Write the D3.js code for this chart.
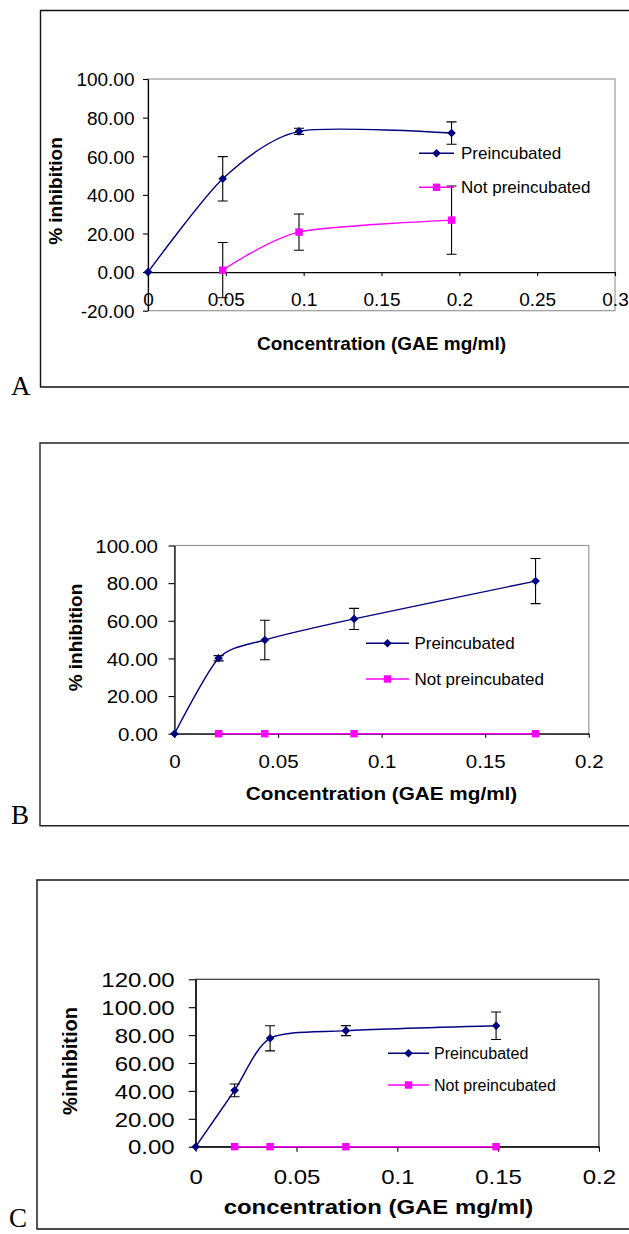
<!DOCTYPE html>
<html>
<head>
<meta charset="utf-8">
<script src="https://cdn.jsdelivr.net/npm/d3@7"></script>
<style>
  html, body { margin: 0; padding: 0; background: #fff; }
  svg { display: block; }
</style>
</head>
<body>
<script>
// ---------------- DATA ----------------
// Panel A
const xA_pre = [0, 0.048, 0.097, 0.195];
const yA_pre = [0, 48.3, 72.9, 72.0];
const eA_pre = [0, 11.5, 1.6, 5.8];
const xA_not = [0.048, 0.097, 0.195];
const yA_not = [1.0, 20.7, 26.9];
const eA_not = [14.3, 9.4, 17.7];
const xTicksA = [0, 0.05, 0.1, 0.15, 0.2, 0.25, 0.3];
const yTicksA = [-20, 0, 20, 40, 60, 80, 100];

// Panel B
const xB_pre = [0, 0.0213, 0.0436, 0.0867, 0.1743];
const yB_pre = [0, 40.1, 49.8, 61.0, 81.1];
const eB_pre = [0, 1.4, 10.5, 5.6, 12.0];
const xB_not = [0.0213, 0.0436, 0.0867, 0.1743];
const yB_not = [0, 0, 0, 0];
const xTicksB = [0, 0.05, 0.1, 0.15, 0.2];
const yTicksB = [0, 20, 40, 60, 80, 100];

// Panel C
const xC_pre = [0, 0.0193, 0.0369, 0.0745, 0.149];
const yC_pre = [0, 40.4, 77.7, 83.2, 86.7];
const eC_pre = [0, 4.6, 9.0, 3.6, 9.9];
const xC_not = [0.0193, 0.0369, 0.0745, 0.149];
const yC_not = [0, 0, 0, 0];
const xTicksC = [0, 0.05, 0.1, 0.15, 0.2];
const yTicksC = [0, 20, 40, 60, 80, 100, 120];

const seriesNames = ["Preincubated", "Not preincubated"];
const panelLetters = ["A", "B", "C"];
const xTitles = ["Concentration (GAE mg/ml)", "Concentration (GAE mg/ml)", "concentration (GAE mg/ml)"];
const yTitles = ["% inhibition", "% inhibition", "%inhibition"];

// ---------------- STYLE ----------------
const NAVY = "#000080", MAGENTA = "#FF00FF";
const SANS = "'Liberation Sans', Arial, Helvetica, sans-serif";
const SERIF = "'Liberation Serif', 'Times New Roman', serif";

const svg = d3.select("body").append("svg").attr("width", 629).attr("height", 1234);

const panels = [
  { letter: panelLetters[0], xTitle: xTitles[0], yTitle: yTitles[0],
    pre: {x: xA_pre, y: yA_pre, e: eA_pre}, not: {x: xA_not, y: yA_not, e: eA_not},
    xTicks: xTicksA, yTicks: yTicksA, xDom: [0, 0.3], yDom: [-20, 100],
    frame: {x: 40.5, top: 10.5, bottom: 387, color: "#111"},
    plot: {x0: 148, x1: 615, yTop: 79, yBot: 310.7, border: "#999"},
    yTick: 5, xTick: 4, yLabOff: 13.5, xLabOff: 26.6, tickFs: 19, tickSx: 1.0,
    xTitlePos: [381.5, 343], xTitleFs: 19, xTitleSx: 1.0,
    yTitlePos: [55.5, 191], yTitleFs: 19,
    legend: {x1: 419, x2: 454, xt: 461, y1: 153.3, y2: 187.3, fs: 17, sx: 1.0},
    letterPos: [11, 395] },
  { letter: panelLetters[1], xTitle: xTitles[1], yTitle: yTitles[1],
    pre: {x: xB_pre, y: yB_pre, e: eB_pre}, not: {x: xB_not, y: yB_not, e: null},
    xTicks: xTicksB, yTicks: yTicksB, xDom: [0, 0.2], yDom: [0, 100],
    frame: {x: 40, top: 443, bottom: 825.7, color: "#222"},
    plot: {x0: 174.5, x1: 588.8, yTop: 545.5, yBot: 733.7, border: "#999"},
    yTick: 6, xTick: 4, yLabOff: 16.5, xLabOff: 27, tickFs: 19, tickSx: 1.08,
    xTitlePos: [381.5, 792.7], xTitleFs: 19, xTitleSx: 1.09,
    yTitlePos: [75, 637.5], yTitleFs: 19,
    legend: {x1: 366, x2: 409, xt: 414.4, y1: 643.3, y2: 679, fs: 17, sx: 1.0},
    letterPos: [11, 823.5] },
  { letter: panelLetters[2], xTitle: xTitles[2], yTitle: yTitles[2],
    pre: {x: xC_pre, y: yC_pre, e: eC_pre}, not: {x: xC_not, y: yC_not, e: null},
    xTicks: xTicksC, yTicks: yTicksC, xDom: [0, 0.2], yDom: [0, 120],
    frame: {x: 37, top: 880, bottom: 1229, color: "#111"},
    plot: {x0: 195.7, x1: 598.9, yTop: 979.3, yBot: 1146.7, border: "#333"},
    yTick: 7, xTick: 5, yLabOff: 21, xLabOff: 30, tickFs: 20, tickSx: 1.2,
    xTitlePos: [378.5, 1206.7], xTitleFs: 21, xTitleSx: 1.14,
    yTitlePos: [70, 1061], yTitleFs: 20,
    legend: {x1: 388, x2: 429, xt: 434, y1: 1053.3, y2: 1085, fs: 16, sx: 1.0},
    letterPos: [9, 1227] }
];

const fmtY = d => d.toFixed(2);
const fmtX = d => String(+d.toFixed(3));
const diamond = "M0,-4.3L4.3,0L0,4.3L-4.3,0Z";

function drawMarker(g, kind, cx, cy) {
  if (kind === "diamond") {
    g.append("path").attr("d", diamond).attr("transform", `translate(${cx},${cy})`).attr("fill", NAVY);
  } else {
    g.append("rect").attr("x", cx - 3.7).attr("y", cy - 3.7).attr("width", 7.4).attr("height", 7.4).attr("fill", MAGENTA);
  }
}

panels.forEach(p => {
  const g = svg.append("g");
  const x = d3.scaleLinear().domain(p.xDom).range([p.plot.x0, p.plot.x1]);
  const y = d3.scaleLinear().domain(p.yDom).range([p.plot.yBot, p.plot.yTop]);

  // outer frame (right side runs off the page)
  g.append("path")
    .attr("d", `M700,${p.frame.top}H${p.frame.x}V${p.frame.bottom}H700`)
    .attr("fill", "none").attr("stroke", p.frame.color).attr("stroke-width", 1.4);

  // panel letter
  g.append("text").attr("x", p.letterPos[0]).attr("y", p.letterPos[1])
    .attr("font-family", SERIF).attr("font-size", 27).attr("fill", "#000").text(p.letter);

  // plot area border
  g.append("rect").attr("x", p.plot.x0).attr("y", p.plot.yTop)
    .attr("width", p.plot.x1 - p.plot.x0).attr("height", p.plot.yBot - p.plot.yTop)
    .attr("fill", "#fff").attr("stroke", p.plot.border).attr("stroke-width", 1.2);

  // axes
  const xAx = g.append("g").attr("transform", `translate(0,${y(0)})`)
    .call(d3.axisBottom(x).tickValues(p.xTicks).tickFormat(fmtX).tickSize(p.xTick).tickSizeOuter(0));
  const yAx = g.append("g").attr("transform", `translate(${x(0)},0)`)
    .call(d3.axisLeft(y).tickValues(p.yTicks).tickFormat(fmtY).tickSize(p.yTick).tickSizeOuter(0));
  [xAx, yAx].forEach(ax => {
    ax.attr("font-family", SANS).attr("font-size", p.tickFs);
    ax.select(".domain").attr("stroke", "#000").attr("stroke-width", 1.2);
    ax.selectAll(".tick line").attr("stroke", "#000").attr("stroke-width", 1.1);
    ax.selectAll(".tick text").attr("fill", "#000");
  });
  xAx.selectAll(".tick text").attr("x", 0).attr("y", 0).attr("dy", "0.36em")
    .attr("text-anchor", "middle")
    .attr("transform", `translate(0,${p.xLabOff}) scale(${p.tickSx},1)`);
  yAx.selectAll(".tick text").attr("x", 0).attr("y", 0).attr("dy", "0.36em")
    .attr("text-anchor", "end")
    .attr("transform", `translate(${-p.yLabOff},0) scale(${p.tickSx},1)`);

  // axis titles
  g.append("text").attr("text-anchor", "middle").attr("dy", "0.36em")
    .attr("transform", `translate(${p.xTitlePos[0]},${p.xTitlePos[1]}) scale(${p.xTitleSx},1)`)
    .attr("font-family", SANS).attr("font-weight", "bold").attr("font-size", p.xTitleFs)
    .attr("fill", "#000").text(p.xTitle);
  g.append("text").attr("text-anchor", "middle").attr("dy", "0.36em")
    .attr("transform", `translate(${p.yTitlePos[0]},${p.yTitlePos[1]}) rotate(-90)`)
    .attr("font-family", SANS).attr("font-weight", "bold").attr("font-size", p.yTitleFs)
    .attr("fill", "#000").text(p.yTitle);

  // series (smoothed lines, like the spreadsheet's smoothed line chart)
  const line = d3.line().x(d => x(d[0])).y(d => y(d[1])).curve(d3.curveCardinal.tension(0.25));
  const series = [
    {s: p.pre, color: NAVY, kind: "diamond"},
    {s: p.not, color: MAGENTA, kind: "square"}
  ];
  series.forEach(({s, color}) => {
    const pts = s.x.map((v, i) => [v, s.y[i]]);
    g.append("path").datum(pts).attr("d", line)
      .attr("fill", "none").attr("stroke", color).attr("stroke-width", 1.4);
  });
  // error bars
  series.forEach(({s}) => {
    if (!s.e) return;
    s.x.forEach((v, i) => {
      const e = s.e[i];
      if (!e) return;
      const cx = x(v), yt = y(s.y[i] + e), yb = y(s.y[i] - e);
      g.append("path")
        .attr("d", `M${cx},${yt}V${yb}M${cx - 5},${yt}H${cx + 5}M${cx - 5},${yb}H${cx + 5}`)
        .attr("fill", "none").attr("stroke", "#000").attr("stroke-width", 1.1);
    });
  });
  // markers
  series.forEach(({s, kind}) => {
    s.x.forEach((v, i) => drawMarker(g, kind, x(v), y(s.y[i])));
  });

  // legend
  const L = p.legend;
  [[L.y1, NAVY, "diamond", seriesNames[0]], [L.y2, MAGENTA, "square", seriesNames[1]]].forEach(([ly, c, k, name]) => {
    g.append("line").attr("x1", L.x1).attr("x2", L.x2).attr("y1", ly).attr("y2", ly)
      .attr("stroke", c).attr("stroke-width", 1.5);
    drawMarker(g, k, (L.x1 + L.x2) / 2, ly);
    g.append("text").attr("dy", "0.36em")
      .attr("transform", `translate(${L.xt},${ly}) scale(${L.sx},1)`)
      .attr("font-family", SANS).attr("font-size", L.fs).attr("fill", "#000").text(name);
  });
});
</script>
</body>
</html>
